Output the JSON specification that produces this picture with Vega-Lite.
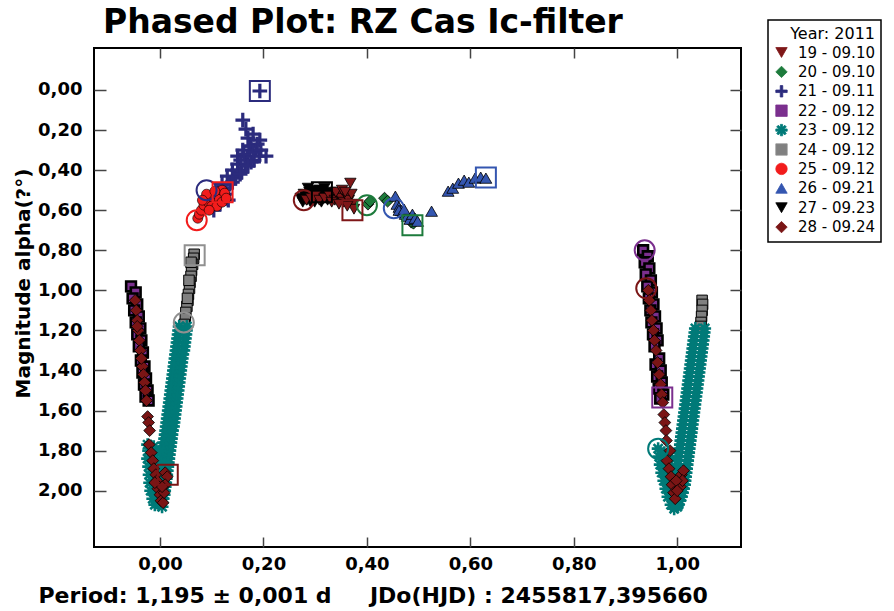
{
  "$schema": "https://vega.github.io/schema/vega-lite/v6.json",
  "autosize": {"type": "none"},
  "padding": {"left": 94, "top": 48, "right": 153, "bottom": 64},
  "width": 647,
  "height": 499,
  "background": "white",
  "title": {"text": "Phased Plot: RZ Cas Ic-filter", "anchor": "start", "frame": "group", "font": "DejaVu Sans", "fontSize": 33, "fontWeight": "bold", "color": "black", "dx": 9, "dy": 29, "offset": 8},
  "config": {
    "view": {"stroke": "black", "strokeWidth": 2},
    "legend": {"fillColor": "white", "strokeColor": "black", "strokeWidth": 1.5, "padding": 6, "titleFont": "DejaVu Sans", "titleFontSize": 16, "titleFontWeight": "normal", "titleColor": "black", "titleAnchor": "end", "titlePadding": 3, "labelFont": "DejaVu Sans", "labelFontSize": 15, "labelColor": "black", "symbolSize": 130, "symbolStrokeWidth": 0.8, "symbolStrokeColor": "#222", "rowPadding": 3.4, "labelOffset": 9}
  },
  "datasets": {
    "pts": [
      {"series":"27 - 09.23","phase":0.272,"mag":0.54},{"series":"27 - 09.23","phase":0.278,"mag":0.52},{"series":"27 - 09.23","phase":0.284,"mag":0.55},{"series":"27 - 09.23","phase":0.289,"mag":0.51},{"series":"27 - 09.23","phase":0.294,"mag":0.53},{"series":"27 - 09.23","phase":0.299,"mag":0.56},{"series":"27 - 09.23","phase":0.304,"mag":0.52},{"series":"27 - 09.23","phase":0.309,"mag":0.50},{"series":"27 - 09.23","phase":0.314,"mag":0.54},{"series":"27 - 09.23","phase":0.319,"mag":0.52},{"series":"27 - 09.23","phase":0.324,"mag":0.55},{"series":"27 - 09.23","phase":0.329,"mag":0.51},{"series":"27 - 09.23","phase":0.334,"mag":0.53},{"series":"27 - 09.23","phase":0.286,"mag":0.49},{"series":"27 - 09.23","phase":0.301,"mag":0.50},{"series":"27 - 09.23","phase":0.318,"mag":0.49},{"series":"27 - 09.23","phase":0.291,"mag":0.56},{"series":"27 - 09.23","phase":0.312,"mag":0.56},{"series":"27 - 09.23","phase":0.276,"mag":0.56},{"series":"27 - 09.23","phase":0.327,"mag":0.53},
      {"series":"19 - 09.10","phase":0.283,"mag":0.55},{"series":"19 - 09.10","phase":0.292,"mag":0.54},{"series":"19 - 09.10","phase":0.300,"mag":0.53},{"series":"19 - 09.10","phase":0.308,"mag":0.55},{"series":"19 - 09.10","phase":0.318,"mag":0.54},{"series":"19 - 09.10","phase":0.328,"mag":0.53},{"series":"19 - 09.10","phase":0.338,"mag":0.55},{"series":"19 - 09.10","phase":0.344,"mag":0.52},{"series":"19 - 09.10","phase":0.350,"mag":0.54},{"series":"19 - 09.10","phase":0.355,"mag":0.56},{"series":"19 - 09.10","phase":0.360,"mag":0.53},{"series":"19 - 09.10","phase":0.365,"mag":0.55},{"series":"19 - 09.10","phase":0.368,"mag":0.465},{"series":"19 - 09.10","phase":0.370,"mag":0.52},{"series":"19 - 09.10","phase":0.372,"mag":0.57},{"series":"19 - 09.10","phase":0.375,"mag":0.595},{"series":"19 - 09.10","phase":0.340,"mag":0.51},{"series":"19 - 09.10","phase":0.332,"mag":0.56},{"series":"19 - 09.10","phase":0.352,"mag":0.50},{"series":"19 - 09.10","phase":0.362,"mag":0.58},{"series":"19 - 09.10","phase":0.346,"mag":0.57},{"series":"19 - 09.10","phase":0.358,"mag":0.51},
      {"series":"24 - 09.12","phase":0.066,"mag":0.82},{"series":"24 - 09.12","phase":0.065,"mag":0.84},{"series":"24 - 09.12","phase":0.063,"mag":0.87},{"series":"24 - 09.12","phase":0.061,"mag":0.90},{"series":"24 - 09.12","phase":0.060,"mag":0.93},{"series":"24 - 09.12","phase":0.058,"mag":0.96},{"series":"24 - 09.12","phase":0.057,"mag":0.99},{"series":"24 - 09.12","phase":0.055,"mag":1.02},{"series":"24 - 09.12","phase":0.054,"mag":1.05},{"series":"24 - 09.12","phase":0.052,"mag":1.08},{"series":"24 - 09.12","phase":0.050,"mag":1.11},{"series":"24 - 09.12","phase":0.049,"mag":1.14},{"series":"24 - 09.12","phase":0.047,"mag":1.17},{"series":"24 - 09.12","phase":0.060,"mag":0.86},{"series":"24 - 09.12","phase":0.056,"mag":0.95},{"series":"24 - 09.12","phase":0.053,"mag":1.04},
      {"series":"24 - 09.12","phase":1.048,"mag":1.05},{"series":"24 - 09.12","phase":1.049,"mag":1.07},{"series":"24 - 09.12","phase":1.048,"mag":1.10},{"series":"24 - 09.12","phase":1.047,"mag":1.13},{"series":"24 - 09.12","phase":1.046,"mag":1.16},{"series":"24 - 09.12","phase":1.045,"mag":1.18},
      {"series":"22 - 09.12","phase":-0.056,"mag":0.98},{"series":"22 - 09.12","phase":-0.047,"mag":1.01},{"series":"22 - 09.12","phase":-0.053,"mag":1.04},{"series":"22 - 09.12","phase":-0.044,"mag":1.07},{"series":"22 - 09.12","phase":-0.050,"mag":1.10},{"series":"22 - 09.12","phase":-0.041,"mag":1.13},{"series":"22 - 09.12","phase":-0.047,"mag":1.16},{"series":"22 - 09.12","phase":-0.038,"mag":1.19},{"series":"22 - 09.12","phase":-0.044,"mag":1.22},{"series":"22 - 09.12","phase":-0.036,"mag":1.25},{"series":"22 - 09.12","phase":-0.041,"mag":1.28},{"series":"22 - 09.12","phase":-0.033,"mag":1.31},{"series":"22 - 09.12","phase":-0.037,"mag":1.35},{"series":"22 - 09.12","phase":-0.030,"mag":1.38},{"series":"22 - 09.12","phase":-0.034,"mag":1.41},{"series":"22 - 09.12","phase":-0.027,"mag":1.44},{"series":"22 - 09.12","phase":-0.031,"mag":1.47},{"series":"22 - 09.12","phase":-0.024,"mag":1.50},{"series":"22 - 09.12","phase":-0.028,"mag":1.53},{"series":"22 - 09.12","phase":-0.022,"mag":1.55},
      {"series":"22 - 09.12","phase":0.934,"mag":0.80},{"series":"22 - 09.12","phase":0.943,"mag":0.83},{"series":"22 - 09.12","phase":0.937,"mag":0.86},{"series":"22 - 09.12","phase":0.946,"mag":0.89},{"series":"22 - 09.12","phase":0.939,"mag":0.92},{"series":"22 - 09.12","phase":0.949,"mag":0.95},{"series":"22 - 09.12","phase":0.942,"mag":0.98},{"series":"22 - 09.12","phase":0.951,"mag":1.01},{"series":"22 - 09.12","phase":0.945,"mag":1.04},{"series":"22 - 09.12","phase":0.954,"mag":1.07},{"series":"22 - 09.12","phase":0.948,"mag":1.10},{"series":"22 - 09.12","phase":0.957,"mag":1.13},{"series":"22 - 09.12","phase":0.950,"mag":1.16},{"series":"22 - 09.12","phase":0.960,"mag":1.19},{"series":"22 - 09.12","phase":0.953,"mag":1.22},{"series":"22 - 09.12","phase":0.962,"mag":1.25},{"series":"22 - 09.12","phase":0.956,"mag":1.28},{"series":"22 - 09.12","phase":0.965,"mag":1.34},{"series":"22 - 09.12","phase":0.958,"mag":1.37},{"series":"22 - 09.12","phase":0.968,"mag":1.40},{"series":"22 - 09.12","phase":0.961,"mag":1.43},{"series":"22 - 09.12","phase":0.970,"mag":1.46},{"series":"22 - 09.12","phase":0.964,"mag":1.49},{"series":"22 - 09.12","phase":0.973,"mag":1.52},{"series":"22 - 09.12","phase":0.967,"mag":1.54},
      {"series":"23 - 09.12","phase":0.037,"mag":1.18},{"series":"23 - 09.12","phase":0.052,"mag":1.18},{"series":"23 - 09.12","phase":0.036,"mag":1.20},{"series":"23 - 09.12","phase":0.051,"mag":1.20},{"series":"23 - 09.12","phase":0.035,"mag":1.22},{"series":"23 - 09.12","phase":0.050,"mag":1.22},{"series":"23 - 09.12","phase":0.034,"mag":1.24},{"series":"23 - 09.12","phase":0.049,"mag":1.24},{"series":"23 - 09.12","phase":0.033,"mag":1.26},{"series":"23 - 09.12","phase":0.048,"mag":1.26},{"series":"23 - 09.12","phase":0.032,"mag":1.28},{"series":"23 - 09.12","phase":0.047,"mag":1.28},{"series":"23 - 09.12","phase":0.031,"mag":1.30},{"series":"23 - 09.12","phase":0.046,"mag":1.30},{"series":"23 - 09.12","phase":0.030,"mag":1.32},{"series":"23 - 09.12","phase":0.044,"mag":1.32},{"series":"23 - 09.12","phase":0.029,"mag":1.34},{"series":"23 - 09.12","phase":0.043,"mag":1.34},{"series":"23 - 09.12","phase":0.028,"mag":1.36},{"series":"23 - 09.12","phase":0.042,"mag":1.36},{"series":"23 - 09.12","phase":0.027,"mag":1.38},{"series":"23 - 09.12","phase":0.041,"mag":1.38},{"series":"23 - 09.12","phase":0.026,"mag":1.40},{"series":"23 - 09.12","phase":0.040,"mag":1.40},{"series":"23 - 09.12","phase":0.025,"mag":1.42},{"series":"23 - 09.12","phase":0.039,"mag":1.42},{"series":"23 - 09.12","phase":0.024,"mag":1.44},{"series":"23 - 09.12","phase":0.038,"mag":1.44},{"series":"23 - 09.12","phase":0.023,"mag":1.46},{"series":"23 - 09.12","phase":0.037,"mag":1.46},{"series":"23 - 09.12","phase":0.022,"mag":1.48},{"series":"23 - 09.12","phase":0.036,"mag":1.48},{"series":"23 - 09.12","phase":0.021,"mag":1.50},{"series":"23 - 09.12","phase":0.035,"mag":1.50},{"series":"23 - 09.12","phase":0.020,"mag":1.52},{"series":"23 - 09.12","phase":0.034,"mag":1.52},{"series":"23 - 09.12","phase":0.019,"mag":1.54},{"series":"23 - 09.12","phase":0.033,"mag":1.54},{"series":"23 - 09.12","phase":0.018,"mag":1.56},{"series":"23 - 09.12","phase":0.032,"mag":1.56},{"series":"23 - 09.12","phase":0.017,"mag":1.58},{"series":"23 - 09.12","phase":0.031,"mag":1.58},{"series":"23 - 09.12","phase":0.016,"mag":1.60},{"series":"23 - 09.12","phase":0.030,"mag":1.60},{"series":"23 - 09.12","phase":0.015,"mag":1.62},{"series":"23 - 09.12","phase":0.029,"mag":1.62},{"series":"23 - 09.12","phase":0.014,"mag":1.64},{"series":"23 - 09.12","phase":0.028,"mag":1.64},{"series":"23 - 09.12","phase":0.013,"mag":1.66},{"series":"23 - 09.12","phase":0.027,"mag":1.66},{"series":"23 - 09.12","phase":0.012,"mag":1.68},{"series":"23 - 09.12","phase":0.026,"mag":1.68},{"series":"23 - 09.12","phase":0.011,"mag":1.70},{"series":"23 - 09.12","phase":0.024,"mag":1.70},{"series":"23 - 09.12","phase":0.010,"mag":1.72},{"series":"23 - 09.12","phase":0.023,"mag":1.72},{"series":"23 - 09.12","phase":0.009,"mag":1.74},{"series":"23 - 09.12","phase":0.022,"mag":1.74},{"series":"23 - 09.12","phase":0.008,"mag":1.76},{"series":"23 - 09.12","phase":0.021,"mag":1.76},{"series":"23 - 09.12","phase":0.007,"mag":1.78},{"series":"23 - 09.12","phase":0.020,"mag":1.78},{"series":"23 - 09.12","phase":0.006,"mag":1.80},{"series":"23 - 09.12","phase":0.019,"mag":1.80},{"series":"23 - 09.12","phase":0.005,"mag":1.82},{"series":"23 - 09.12","phase":0.018,"mag":1.82},{"series":"23 - 09.12","phase":0.004,"mag":1.84},{"series":"23 - 09.12","phase":0.017,"mag":1.84},{"series":"23 - 09.12","phase":0.003,"mag":1.86},{"series":"23 - 09.12","phase":0.016,"mag":1.86},{"series":"23 - 09.12","phase":0.002,"mag":1.88},{"series":"23 - 09.12","phase":0.015,"mag":1.88},{"series":"23 - 09.12","phase":0.001,"mag":1.90},{"series":"23 - 09.12","phase":0.014,"mag":1.90},{"series":"23 - 09.12","phase":0.000,"mag":1.92},{"series":"23 - 09.12","phase":0.013,"mag":1.92},{"series":"23 - 09.12","phase":-0.001,"mag":1.94},{"series":"23 - 09.12","phase":0.012,"mag":1.94},{"series":"23 - 09.12","phase":-0.002,"mag":1.96},{"series":"23 - 09.12","phase":0.011,"mag":1.96},{"series":"23 - 09.12","phase":-0.003,"mag":1.98},{"series":"23 - 09.12","phase":0.010,"mag":1.98},{"series":"23 - 09.12","phase":-0.004,"mag":2.00},{"series":"23 - 09.12","phase":0.009,"mag":2.00},{"series":"23 - 09.12","phase":-0.005,"mag":2.02},{"series":"23 - 09.12","phase":0.008,"mag":2.02},{"series":"23 - 09.12","phase":-0.006,"mag":2.04},{"series":"23 - 09.12","phase":0.006,"mag":2.04},{"series":"23 - 09.12","phase":-0.006,"mag":2.06},{"series":"23 - 09.12","phase":0.004,"mag":2.06},
      {"series":"23 - 09.12","phase":-0.024,"mag":1.77},{"series":"23 - 09.12","phase":-0.022,"mag":1.80},{"series":"23 - 09.12","phase":-0.024,"mag":1.84},{"series":"23 - 09.12","phase":-0.022,"mag":1.88},{"series":"23 - 09.12","phase":-0.021,"mag":1.92},{"series":"23 - 09.12","phase":-0.020,"mag":1.96},{"series":"23 - 09.12","phase":-0.018,"mag":2.00},{"series":"23 - 09.12","phase":-0.014,"mag":2.04},{"series":"23 - 09.12","phase":-0.010,"mag":2.07},{"series":"23 - 09.12","phase":-0.012,"mag":1.78},{"series":"23 - 09.12","phase":-0.010,"mag":1.82},{"series":"23 - 09.12","phase":-0.012,"mag":1.86},{"series":"23 - 09.12","phase":-0.008,"mag":1.90},{"series":"23 - 09.12","phase":-0.010,"mag":1.94},{"series":"23 - 09.12","phase":-0.006,"mag":1.98},{"series":"23 - 09.12","phase":-0.006,"mag":2.02},{"series":"23 - 09.12","phase":-0.002,"mag":2.07},{"series":"23 - 09.12","phase":0.004,"mag":2.08},{"series":"23 - 09.12","phase":0.000,"mag":1.80},{"series":"23 - 09.12","phase":0.003,"mag":1.86},{"series":"23 - 09.12","phase":-0.002,"mag":1.96},
      {"series":"23 - 09.12","phase":1.035,"mag":1.19},{"series":"23 - 09.12","phase":1.053,"mag":1.19},{"series":"23 - 09.12","phase":1.034,"mag":1.21},{"series":"23 - 09.12","phase":1.052,"mag":1.21},{"series":"23 - 09.12","phase":1.033,"mag":1.23},{"series":"23 - 09.12","phase":1.051,"mag":1.23},{"series":"23 - 09.12","phase":1.032,"mag":1.25},{"series":"23 - 09.12","phase":1.050,"mag":1.25},{"series":"23 - 09.12","phase":1.031,"mag":1.27},{"series":"23 - 09.12","phase":1.049,"mag":1.27},{"series":"23 - 09.12","phase":1.030,"mag":1.29},{"series":"23 - 09.12","phase":1.048,"mag":1.29},{"series":"23 - 09.12","phase":1.029,"mag":1.31},{"series":"23 - 09.12","phase":1.047,"mag":1.31},{"series":"23 - 09.12","phase":1.028,"mag":1.33},{"series":"23 - 09.12","phase":1.046,"mag":1.33},{"series":"23 - 09.12","phase":1.027,"mag":1.35},{"series":"23 - 09.12","phase":1.045,"mag":1.35},{"series":"23 - 09.12","phase":1.026,"mag":1.37},{"series":"23 - 09.12","phase":1.044,"mag":1.37},{"series":"23 - 09.12","phase":1.025,"mag":1.39},{"series":"23 - 09.12","phase":1.043,"mag":1.39},{"series":"23 - 09.12","phase":1.024,"mag":1.41},{"series":"23 - 09.12","phase":1.042,"mag":1.41},{"series":"23 - 09.12","phase":1.023,"mag":1.43},{"series":"23 - 09.12","phase":1.041,"mag":1.43},{"series":"23 - 09.12","phase":1.022,"mag":1.45},{"series":"23 - 09.12","phase":1.040,"mag":1.45},{"series":"23 - 09.12","phase":1.021,"mag":1.47},{"series":"23 - 09.12","phase":1.039,"mag":1.47},{"series":"23 - 09.12","phase":1.020,"mag":1.49},{"series":"23 - 09.12","phase":1.038,"mag":1.49},{"series":"23 - 09.12","phase":1.019,"mag":1.51},{"series":"23 - 09.12","phase":1.037,"mag":1.51},{"series":"23 - 09.12","phase":1.018,"mag":1.53},{"series":"23 - 09.12","phase":1.036,"mag":1.53},{"series":"23 - 09.12","phase":1.017,"mag":1.55},{"series":"23 - 09.12","phase":1.035,"mag":1.55},{"series":"23 - 09.12","phase":1.016,"mag":1.57},{"series":"23 - 09.12","phase":1.034,"mag":1.57},{"series":"23 - 09.12","phase":1.015,"mag":1.59},{"series":"23 - 09.12","phase":1.033,"mag":1.59},{"series":"23 - 09.12","phase":1.014,"mag":1.61},{"series":"23 - 09.12","phase":1.032,"mag":1.61},{"series":"23 - 09.12","phase":1.013,"mag":1.63},{"series":"23 - 09.12","phase":1.031,"mag":1.63},{"series":"23 - 09.12","phase":1.012,"mag":1.65},{"series":"23 - 09.12","phase":1.030,"mag":1.65},{"series":"23 - 09.12","phase":1.011,"mag":1.67},{"series":"23 - 09.12","phase":1.029,"mag":1.67},{"series":"23 - 09.12","phase":1.010,"mag":1.69},{"series":"23 - 09.12","phase":1.028,"mag":1.69},{"series":"23 - 09.12","phase":1.009,"mag":1.71},{"series":"23 - 09.12","phase":1.027,"mag":1.71},{"series":"23 - 09.12","phase":1.008,"mag":1.73},{"series":"23 - 09.12","phase":1.026,"mag":1.73},{"series":"23 - 09.12","phase":1.007,"mag":1.75},{"series":"23 - 09.12","phase":1.025,"mag":1.75},{"series":"23 - 09.12","phase":1.006,"mag":1.77},{"series":"23 - 09.12","phase":1.024,"mag":1.77},{"series":"23 - 09.12","phase":1.005,"mag":1.79},{"series":"23 - 09.12","phase":1.023,"mag":1.79},{"series":"23 - 09.12","phase":1.004,"mag":1.81},{"series":"23 - 09.12","phase":1.022,"mag":1.81},{"series":"23 - 09.12","phase":1.003,"mag":1.83},{"series":"23 - 09.12","phase":1.021,"mag":1.83},{"series":"23 - 09.12","phase":1.002,"mag":1.85},{"series":"23 - 09.12","phase":1.020,"mag":1.85},{"series":"23 - 09.12","phase":1.001,"mag":1.87},{"series":"23 - 09.12","phase":1.019,"mag":1.87},{"series":"23 - 09.12","phase":1.000,"mag":1.89},{"series":"23 - 09.12","phase":1.018,"mag":1.89},{"series":"23 - 09.12","phase":0.999,"mag":1.91},{"series":"23 - 09.12","phase":1.017,"mag":1.91},{"series":"23 - 09.12","phase":0.998,"mag":1.93},{"series":"23 - 09.12","phase":1.016,"mag":1.93},{"series":"23 - 09.12","phase":0.997,"mag":1.95},{"series":"23 - 09.12","phase":1.015,"mag":1.95},{"series":"23 - 09.12","phase":0.996,"mag":1.97},{"series":"23 - 09.12","phase":1.014,"mag":1.97},{"series":"23 - 09.12","phase":0.995,"mag":1.99},{"series":"23 - 09.12","phase":1.012,"mag":1.99},{"series":"23 - 09.12","phase":0.994,"mag":2.01},{"series":"23 - 09.12","phase":1.010,"mag":2.01},{"series":"23 - 09.12","phase":0.993,"mag":2.03},{"series":"23 - 09.12","phase":1.008,"mag":2.03},{"series":"23 - 09.12","phase":0.993,"mag":2.05},{"series":"23 - 09.12","phase":1.005,"mag":2.05},{"series":"23 - 09.12","phase":0.994,"mag":2.07},{"series":"23 - 09.12","phase":1.002,"mag":2.07},
      {"series":"23 - 09.12","phase":0.963,"mag":1.79},{"series":"23 - 09.12","phase":0.965,"mag":1.83},{"series":"23 - 09.12","phase":0.967,"mag":1.87},{"series":"23 - 09.12","phase":0.970,"mag":1.91},{"series":"23 - 09.12","phase":0.974,"mag":1.95},{"series":"23 - 09.12","phase":0.978,"mag":1.99},{"series":"23 - 09.12","phase":0.982,"mag":2.03},{"series":"23 - 09.12","phase":0.988,"mag":2.07},{"series":"23 - 09.12","phase":0.994,"mag":2.09},{"series":"23 - 09.12","phase":0.975,"mag":1.81},{"series":"23 - 09.12","phase":0.977,"mag":1.85},{"series":"23 - 09.12","phase":0.980,"mag":1.89},{"series":"23 - 09.12","phase":0.984,"mag":1.93},{"series":"23 - 09.12","phase":0.987,"mag":1.97},{"series":"23 - 09.12","phase":0.990,"mag":2.01},{"series":"23 - 09.12","phase":0.994,"mag":2.05},{"series":"23 - 09.12","phase":1.000,"mag":2.08},{"series":"23 - 09.12","phase":0.990,"mag":1.84},{"series":"23 - 09.12","phase":0.993,"mag":1.90},{"series":"23 - 09.12","phase":0.997,"mag":1.95},{"series":"23 - 09.12","phase":1.000,"mag":2.00},
      {"series":"21 - 09.11","phase":0.193,"mag":0.005},{"series":"21 - 09.11","phase":0.160,"mag":0.150},{"series":"21 - 09.11","phase":0.166,"mag":0.195},{"series":"21 - 09.11","phase":0.193,"mag":0.250},{"series":"21 - 09.11","phase":0.180,"mag":0.220},{"series":"21 - 09.11","phase":0.170,"mag":0.240},{"series":"21 - 09.11","phase":0.176,"mag":0.280},{"series":"21 - 09.11","phase":0.186,"mag":0.300},{"series":"21 - 09.11","phase":0.160,"mag":0.300},{"series":"21 - 09.11","phase":0.150,"mag":0.330},{"series":"21 - 09.11","phase":0.170,"mag":0.330},{"series":"21 - 09.11","phase":0.182,"mag":0.350},{"series":"21 - 09.11","phase":0.192,"mag":0.330},{"series":"21 - 09.11","phase":0.205,"mag":0.330},{"series":"21 - 09.11","phase":0.165,"mag":0.370},{"series":"21 - 09.11","phase":0.150,"mag":0.370},{"series":"21 - 09.11","phase":0.140,"mag":0.400},{"series":"21 - 09.11","phase":0.158,"mag":0.410},{"series":"21 - 09.11","phase":0.130,"mag":0.430},{"series":"21 - 09.11","phase":0.146,"mag":0.440},{"series":"21 - 09.11","phase":0.120,"mag":0.470},{"series":"21 - 09.11","phase":0.135,"mag":0.470},{"series":"21 - 09.11","phase":0.112,"mag":0.500},{"series":"21 - 09.11","phase":0.126,"mag":0.520},{"series":"21 - 09.11","phase":0.102,"mag":0.530},{"series":"21 - 09.11","phase":0.116,"mag":0.570},{"series":"21 - 09.11","phase":0.104,"mag":0.600},{"series":"21 - 09.11","phase":0.132,"mag":0.550},{"series":"21 - 09.11","phase":0.156,"mag":0.350},{"series":"21 - 09.11","phase":0.176,"mag":0.360},{"series":"21 - 09.11","phase":0.188,"mag":0.270},{"series":"21 - 09.11","phase":0.172,"mag":0.280},{"series":"21 - 09.11","phase":0.150,"mag":0.400},{"series":"21 - 09.11","phase":0.162,"mag":0.320},{"series":"21 - 09.11","phase":0.180,"mag":0.310},{"series":"21 - 09.11","phase":0.140,"mag":0.460},{"series":"21 - 09.11","phase":0.128,"mag":0.490},{"series":"21 - 09.11","phase":0.195,"mag":0.300},{"series":"21 - 09.11","phase":0.170,"mag":0.380},{"series":"21 - 09.11","phase":0.155,"mag":0.420},
      {"series":"25 - 09.12","phase":0.073,"mag":0.640},{"series":"25 - 09.12","phase":0.076,"mag":0.620},{"series":"25 - 09.12","phase":0.080,"mag":0.600},{"series":"25 - 09.12","phase":0.085,"mag":0.575},{"series":"25 - 09.12","phase":0.090,"mag":0.550},{"series":"25 - 09.12","phase":0.095,"mag":0.565},{"series":"25 - 09.12","phase":0.100,"mag":0.530},{"series":"25 - 09.12","phase":0.105,"mag":0.555},{"series":"25 - 09.12","phase":0.110,"mag":0.520},{"series":"25 - 09.12","phase":0.115,"mag":0.545},{"series":"25 - 09.12","phase":0.120,"mag":0.500},{"series":"25 - 09.12","phase":0.125,"mag":0.515},{"series":"25 - 09.12","phase":0.090,"mag":0.520},{"series":"25 - 09.12","phase":0.100,"mag":0.580},{"series":"25 - 09.12","phase":0.082,"mag":0.550},{"series":"25 - 09.12","phase":0.110,"mag":0.580},{"series":"25 - 09.12","phase":0.120,"mag":0.560},{"series":"25 - 09.12","phase":0.095,"mag":0.600},{"series":"25 - 09.12","phase":0.128,"mag":0.540},{"series":"25 - 09.12","phase":0.106,"mag":0.505},
      {"series":"20 - 09.10","phase":0.402,"mag":0.570},{"series":"20 - 09.10","phase":0.406,"mag":0.555},{"series":"20 - 09.10","phase":0.434,"mag":0.540},{"series":"20 - 09.10","phase":0.440,"mag":0.555},{"series":"20 - 09.10","phase":0.470,"mag":0.625},{"series":"20 - 09.10","phase":0.480,"mag":0.640},{"series":"20 - 09.10","phase":0.486,"mag":0.660},{"series":"20 - 09.10","phase":0.490,"mag":0.665},
      {"series":"26 - 09.21","phase":0.455,"mag":0.530},{"series":"26 - 09.21","phase":0.458,"mag":0.570},{"series":"26 - 09.21","phase":0.462,"mag":0.585},{"series":"26 - 09.21","phase":0.466,"mag":0.600},{"series":"26 - 09.21","phase":0.470,"mag":0.610},{"series":"26 - 09.21","phase":0.474,"mag":0.620},{"series":"26 - 09.21","phase":0.478,"mag":0.630},{"series":"26 - 09.21","phase":0.483,"mag":0.645},{"series":"26 - 09.21","phase":0.488,"mag":0.620},{"series":"26 - 09.21","phase":0.493,"mag":0.640},{"series":"26 - 09.21","phase":0.498,"mag":0.655},{"series":"26 - 09.21","phase":0.462,"mag":0.600},{"series":"26 - 09.21","phase":0.472,"mag":0.595},{"series":"26 - 09.21","phase":0.525,"mag":0.605},{"series":"26 - 09.21","phase":0.557,"mag":0.505},{"series":"26 - 09.21","phase":0.566,"mag":0.490},{"series":"26 - 09.21","phase":0.577,"mag":0.465},{"series":"26 - 09.21","phase":0.588,"mag":0.450},{"series":"26 - 09.21","phase":0.597,"mag":0.460},{"series":"26 - 09.21","phase":0.609,"mag":0.440},{"series":"26 - 09.21","phase":0.620,"mag":0.435},{"series":"26 - 09.21","phase":0.630,"mag":0.440},
      {"series":"28 - 09.24","phase":-0.048,"mag":1.05},{"series":"28 - 09.24","phase":-0.046,"mag":1.10},{"series":"28 - 09.24","phase":-0.044,"mag":1.15},{"series":"28 - 09.24","phase":-0.042,"mag":1.20},{"series":"28 - 09.24","phase":-0.040,"mag":1.25},{"series":"28 - 09.24","phase":-0.038,"mag":1.30},{"series":"28 - 09.24","phase":-0.034,"mag":1.38},{"series":"28 - 09.24","phase":-0.032,"mag":1.42},{"series":"28 - 09.24","phase":-0.030,"mag":1.46},{"series":"28 - 09.24","phase":-0.028,"mag":1.50},{"series":"28 - 09.24","phase":-0.026,"mag":1.55},{"series":"28 - 09.24","phase":-0.024,"mag":1.63},{"series":"28 - 09.24","phase":-0.022,"mag":1.66},{"series":"28 - 09.24","phase":-0.020,"mag":1.70},{"series":"28 - 09.24","phase":-0.021,"mag":1.77},{"series":"28 - 09.24","phase":-0.017,"mag":1.81},{"series":"28 - 09.24","phase":-0.014,"mag":1.85},{"series":"28 - 09.24","phase":-0.012,"mag":1.89},{"series":"28 - 09.24","phase":-0.008,"mag":1.92},{"series":"28 - 09.24","phase":-0.006,"mag":1.95},{"series":"28 - 09.24","phase":-0.004,"mag":1.99},{"series":"28 - 09.24","phase":0.000,"mag":2.02},{"series":"28 - 09.24","phase":0.002,"mag":2.05},{"series":"28 - 09.24","phase":0.006,"mag":2.06},{"series":"28 - 09.24","phase":0.010,"mag":1.91},{"series":"28 - 09.24","phase":0.014,"mag":1.93},{"series":"28 - 09.24","phase":0.010,"mag":1.97},{"series":"28 - 09.24","phase":0.008,"mag":2.01},{"series":"28 - 09.24","phase":0.004,"mag":1.98},{"series":"28 - 09.24","phase":-0.010,"mag":1.96},{"series":"28 - 09.24","phase":-0.044,"mag":1.18},{"series":"28 - 09.24","phase":-0.036,"mag":1.34},
      {"series":"28 - 09.24","phase":0.944,"mag":1.00},{"series":"28 - 09.24","phase":0.946,"mag":1.05},{"series":"28 - 09.24","phase":0.949,"mag":1.10},{"series":"28 - 09.24","phase":0.951,"mag":1.15},{"series":"28 - 09.24","phase":0.954,"mag":1.20},{"series":"28 - 09.24","phase":0.956,"mag":1.25},{"series":"28 - 09.24","phase":0.959,"mag":1.30},{"series":"28 - 09.24","phase":0.962,"mag":1.36},{"series":"28 - 09.24","phase":0.965,"mag":1.42},{"series":"28 - 09.24","phase":0.968,"mag":1.47},{"series":"28 - 09.24","phase":0.970,"mag":1.52},{"series":"28 - 09.24","phase":0.972,"mag":1.56},{"series":"28 - 09.24","phase":0.974,"mag":1.62},{"series":"28 - 09.24","phase":0.976,"mag":1.66},{"series":"28 - 09.24","phase":0.978,"mag":1.70},{"series":"28 - 09.24","phase":0.979,"mag":1.75},{"series":"28 - 09.24","phase":0.980,"mag":1.85},{"series":"28 - 09.24","phase":0.984,"mag":1.89},{"series":"28 - 09.24","phase":0.988,"mag":1.93},{"series":"28 - 09.24","phase":0.990,"mag":1.97},{"series":"28 - 09.24","phase":0.993,"mag":2.01},{"series":"28 - 09.24","phase":0.996,"mag":2.04},{"series":"28 - 09.24","phase":1.008,"mag":1.92},{"series":"28 - 09.24","phase":1.012,"mag":1.90},{"series":"28 - 09.24","phase":1.006,"mag":1.98},{"series":"28 - 09.24","phase":1.010,"mag":1.95},{"series":"28 - 09.24","phase":0.998,"mag":1.95},{"series":"28 - 09.24","phase":1.000,"mag":2.00},{"series":"28 - 09.24","phase":0.986,"mag":1.80}
    ],
    "rings": [
      {"series":"21 - 09.11","kind":"square","phase":0.193,"mag":0.005},
      {"series":"21 - 09.11","kind":"circle","phase":0.09,"mag":0.50},
      {"series":"25 - 09.12","kind":"circle","phase":0.071,"mag":0.65},
      {"series":"25 - 09.12","kind":"square","phase":0.121,"mag":0.51},
      {"series":"24 - 09.12","kind":"square","phase":0.067,"mag":0.825},
      {"series":"24 - 09.12","kind":"circle","phase":0.046,"mag":1.16},
      {"series":"28 - 09.24","kind":"square","phase":0.015,"mag":1.92},
      {"series":"28 - 09.24","kind":"circle","phase":0.94,"mag":0.99},
      {"series":"22 - 09.12","kind":"circle","phase":0.937,"mag":0.80},
      {"series":"22 - 09.12","kind":"square","phase":0.971,"mag":1.535},
      {"series":"23 - 09.12","kind":"circle","phase":0.963,"mag":1.79},
      {"series":"19 - 09.10","kind":"circle","phase":0.278,"mag":0.55},
      {"series":"19 - 09.10","kind":"square","phase":0.372,"mag":0.60},
      {"series":"27 - 09.23","kind":"square","phase":0.313,"mag":0.51},
      {"series":"20 - 09.10","kind":"circle","phase":0.40,"mag":0.575},
      {"series":"20 - 09.10","kind":"square","phase":0.488,"mag":0.675},
      {"series":"26 - 09.21","kind":"circle","phase":0.452,"mag":0.59},
      {"series":"26 - 09.21","kind":"square","phase":0.63,"mag":0.437}
    ]
  },
  "resolve": {"axis": {"x": "independent", "y": "independent"}},
  "layer": [
    {
      "encoding": {
        "x": {"field": "phase", "type": "quantitative", "scale": {"domain": [-0.1276, 1.1232], "nice": false, "zero": false},
          "axis": {"orient": "bottom", "values": [0, 0.2, 0.4, 0.6, 0.8, 1], "labelExpr": "replace(format(datum.value, '.2f'), '.', ',')", "labelFont": "DejaVu Sans", "labelFontWeight": "bold", "labelFontSize": 18, "labelColor": "black", "labelFlush": false, "labelOverlap": false, "tickSize": -10, "tickColor": "#444", "tickWidth": 1.5, "labelPadding": 18, "domain": false, "grid": false,
            "title": "Period: 1,195 ± 0,001 d\u00a0\u00a0\u00a0\u00a0\u00a0JDo(HJD) : 2455817,395660", "titleFont": "DejaVu Sans", "titleFontSize": 22, "titleFontWeight": "bold", "titleColor": "black", "titleX": -56, "titleY": 55, "titleAlign": "left", "titleAnchor": "start", "titleBaseline": "alphabetic"}},
        "y": {"field": "mag", "type": "quantitative", "scale": {"domain": [-0.2096, 2.281], "reverse": true, "nice": false, "zero": false},
          "axis": {"orient": "left", "values": [0, 0.2, 0.4, 0.6, 0.8, 1, 1.2, 1.4, 1.6, 1.8, 2], "labelExpr": "replace(format(datum.value, '.2f'), '.', ',')", "labelFont": "DejaVu Sans", "labelFontWeight": "bold", "labelFontSize": 18, "labelColor": "black", "labelFlush": false, "labelOverlap": false, "tickSize": -12, "tickColor": "#444", "tickWidth": 1.5, "labelPadding": 24, "domain": false, "grid": false,
            "title": "Magnitude alpha(?°)", "titleFont": "DejaVu Sans", "titleFontSize": 20, "titleFontWeight": "bold", "titleColor": "black", "titleX": -71, "titleY": 235, "titleAngle": -90, "titleAlign": "center", "titleBaseline": "middle"}},
        "fill": {"field": "series", "type": "nominal", "title": "Year: 2011",
          "scale": {"domain": ["19 - 09.10","20 - 09.10","21 - 09.11","22 - 09.12","23 - 09.12","24 - 09.12","25 - 09.12","26 - 09.21","27 - 09.23","28 - 09.24"],
            "range": ["#7f1718","#1d7b3c","#2b2b7d","#7b2f8e","#007a78","#808080","#f21c1c","#3456b0","#000000","#7a1515"]},
          "legend": {"orient": "none", "legendX": 674, "legendY": -28}},
        "shape": {"field": "series", "type": "nominal", "title": "Year: 2011",
          "scale": {"domain": ["19 - 09.10","20 - 09.10","21 - 09.11","22 - 09.12","23 - 09.12","24 - 09.12","25 - 09.12","26 - 09.21","27 - 09.23","28 - 09.24"],
            "range": ["triangle-down","diamond","M-1,-0.22H-0.22V-1H0.22V-0.22H1V0.22H0.22V1H-0.22V0.22H-1Z","square","M-1,-0.2H-0.2V-1H0.2V-0.2H1V0.2H0.2V1H-0.2V0.2H-1Z M-0.566,-0.849L0,-0.283L0.566,-0.849L0.849,-0.566L0.283,0L0.849,0.566L0.566,0.849L0,0.283L-0.566,0.849L-0.849,0.566L-0.283,0L-0.849,-0.566Z","square","circle","triangle-up","triangle-down","diamond"]},
          "legend": {"orient": "none", "legendX": 674, "legendY": -28}}
      },
      "layer": [
        {"data": {"name": "pts"}, "transform": [{"filter": {"field": "series", "oneOf": ["27 - 09.23", "19 - 09.10"]}}],
         "mark": {"type": "point", "filled": true, "opacity": 1, "stroke": "black", "strokeWidth": 0.8, "size": 130}},
        {"data": {"name": "pts"}, "transform": [{"filter": {"field": "series", "equal": "24 - 09.12"}}],
         "mark": {"type": "point", "filled": true, "opacity": 1, "stroke": "black", "strokeWidth": 1, "size": 110}},
        {"data": {"name": "pts"}, "transform": [{"filter": {"field": "series", "equal": "22 - 09.12"}}],
         "mark": {"type": "point", "filled": true, "opacity": 1, "stroke": "black", "strokeWidth": 2.6, "size": 95}},
        {"data": {"name": "pts"}, "transform": [{"filter": {"field": "series", "equal": "23 - 09.12"}}],
         "mark": {"type": "point", "filled": true, "opacity": 1, "strokeWidth": 0, "size": 165}},
        {"data": {"name": "pts"}, "transform": [{"filter": {"field": "series", "equal": "21 - 09.11"}}],
         "mark": {"type": "point", "filled": true, "opacity": 1, "strokeWidth": 0, "size": 215}},
        {"data": {"name": "pts"}, "transform": [{"filter": {"field": "series", "equal": "25 - 09.12"}}],
         "mark": {"type": "point", "filled": true, "opacity": 1, "stroke": "black", "strokeWidth": 0.6, "size": 100}},
        {"data": {"name": "pts"}, "transform": [{"filter": {"field": "series", "oneOf": ["20 - 09.10", "26 - 09.21", "28 - 09.24"]}}],
         "mark": {"type": "point", "filled": true, "opacity": 1, "stroke": "black", "strokeWidth": 0.8, "size": 140}}
      ]
    },
    {
      "data": {"name": "rings"},
      "transform": [{"filter": {"field": "kind", "equal": "circle"}}],
      "mark": {"type": "point", "shape": "circle", "filled": false, "size": 400, "strokeWidth": 2, "opacity": 1},
      "encoding": {
        "x": {"field": "phase", "type": "quantitative",
          "axis": {"orient": "top", "values": [0, 0.2, 0.4, 0.6, 0.8, 1], "labels": false, "tickSize": -10, "tickColor": "#444", "tickWidth": 1.5, "domain": false, "grid": false, "title": null}},
        "y": {"field": "mag", "type": "quantitative",
          "axis": {"orient": "right", "values": [0, 0.2, 0.4, 0.6, 0.8, 1, 1.2, 1.4, 1.6, 1.8, 2], "labels": false, "tickSize": -11, "tickColor": "#444", "tickWidth": 1.5, "domain": false, "grid": false, "title": null}},
        "stroke": {"field": "series", "type": "nominal", "legend": null,
          "scale": {"domain": ["19 - 09.10","20 - 09.10","21 - 09.11","22 - 09.12","23 - 09.12","24 - 09.12","25 - 09.12","26 - 09.21","27 - 09.23","28 - 09.24"],
            "range": ["#7f1718","#1d7b3c","#2b2b7d","#7b2f8e","#007a78","#909090","#f21c1c","#3456b0","#000000","#7a1515"]}}
      }
    },
    {
      "data": {"name": "rings"},
      "transform": [{"filter": {"field": "kind", "equal": "square"}}],
      "mark": {"type": "point", "shape": "square", "filled": false, "size": 400, "strokeWidth": 2, "opacity": 1},
      "encoding": {
        "x": {"field": "phase", "type": "quantitative", "axis": null},
        "y": {"field": "mag", "type": "quantitative", "axis": null},
        "stroke": {"field": "series", "type": "nominal", "legend": null}
      }
    }
  ]
}
